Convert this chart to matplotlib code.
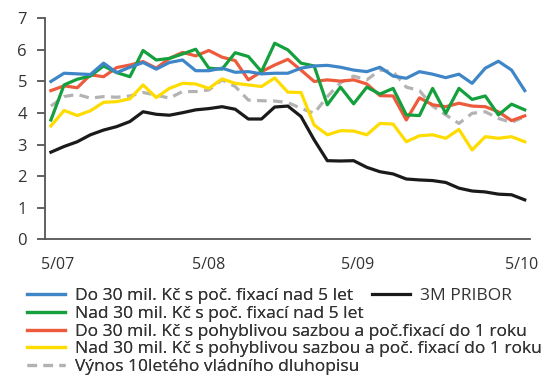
import numpy as np
import matplotlib.pyplot as plt

plt.rcParams['font.family'] = ['Open Sans', 'DejaVu Sans']

# mesice 5/2007 .. 5/2010
mesice = np.arange(37)

do30_fix5 = [5.00, 5.26, 5.24, 5.22, 5.58, 5.28, 5.45, 5.60, 5.39, 5.60, 5.68, 5.34, 5.34,
             5.42, 5.29, 5.31, 5.24, 5.26, 5.26, 5.42, 5.49, 5.51, 5.45, 5.36, 5.31, 5.45,
             5.17, 5.10, 5.31, 5.23, 5.12, 5.23, 4.94, 5.42, 5.64, 5.36, 4.71]
nad30_fix5 = [3.78, 4.89, 5.07, 5.17, 5.49, 5.28, 5.15, 5.98, 5.68, 5.73, 5.87, 6.02, 5.42,
              5.39, 5.91, 5.79, 5.31, 6.21, 6.00, 5.58, 5.49, 4.26, 4.82, 4.29, 4.82, 4.60,
              4.78, 3.94, 3.92, 4.78, 3.99, 4.78, 4.43, 4.54, 3.94, 4.28, 4.10]
do30_pohybl = [4.71, 4.86, 4.80, 5.21, 5.15, 5.44, 5.52, 5.63, 5.42, 5.73, 5.92, 5.81, 5.98,
               5.77, 5.66, 5.05, 5.31, 5.52, 5.70, 5.36, 5.00, 5.05, 5.01, 5.05, 4.92, 4.55,
               4.54, 3.78, 4.48, 4.26, 4.20, 4.31, 4.22, 4.20, 4.04, 3.76, 3.91]
nad30_pohybl = [3.59, 4.08, 3.92, 4.07, 4.34, 4.36, 4.45, 4.89, 4.49, 4.78, 4.94, 4.92, 4.78,
                5.08, 4.94, 4.89, 4.84, 5.11, 4.66, 4.65, 3.62, 3.31, 3.44, 3.43, 3.31, 3.67,
                3.65, 3.09, 3.28, 3.31, 3.20, 3.48, 2.83, 3.25, 3.20, 3.25, 3.09]
pribor = [2.76, 2.94, 3.09, 3.31, 3.46, 3.57, 3.73, 4.04, 3.96, 3.93, 4.01, 4.10, 4.14,
          4.20, 4.12, 3.81, 3.81, 4.19, 4.22, 3.89, 3.15, 2.49, 2.48, 2.49, 2.28, 2.14,
          2.07, 1.91, 1.88, 1.86, 1.80, 1.62, 1.53, 1.50, 1.43, 1.41, 1.25]
vynos10 = [4.22, 4.52, 4.59, 4.47, 4.52, 4.50, 4.54, 4.65, 4.57, 4.47, 4.68, 4.68, 4.73,
           5.05, 4.84, 4.41, 4.39, 4.38, 4.33, 4.15, 3.99, 4.52, 4.96, 5.17, 5.05, 5.36,
           5.31, 4.82, 4.71, 4.22, 3.94, 3.67, 3.99, 4.04, 3.83, 3.70, 3.89]

tick_pos = [0.5, 12, 23.3, 35.8]
tick_lab = ['5/07', '5/08', '5/09', '5/10']

fig = plt.figure(figsize=(5.44, 3.81), dpi=100)
ax = fig.add_axes([45/544, 1 - 239.3/381, (530 - 45)/544, (239.3 - 18.3)/381])

lw = 2.3
l_vynos, = ax.plot(mesice, vynos10, color='#b3b3b3', lw=lw, ls=(0, (3, 2)))
l_pribor, = ax.plot(mesice, pribor, color='#1a1a1a', lw=lw)
l_nadp, = ax.plot(mesice, nad30_pohybl, color='#ffdc00', lw=lw)
l_dop, = ax.plot(mesice, do30_pohybl, color='#ee5a3c', lw=lw)
l_nadf, = ax.plot(mesice, nad30_fix5, color='#14a03c', lw=lw)
l_dof, = ax.plot(mesice, do30_fix5, color='#3f86c8', lw=lw)

ax.set_xlim(-0.45, 36.4)
ax.set_ylim(0, 7)
ax.set_yticks(range(8))
ax.set_xticks(tick_pos)
ax.set_xticklabels(tick_lab)
for s in ['top', 'right']:
    ax.spines[s].set_visible(False)
for s in ['left', 'bottom']:
    ax.spines[s].set_color('#555555')
    ax.spines[s].set_linewidth(1.3)
ax.tick_params(axis='y', length=6, width=1.3, color='#555555', labelsize=12,
               labelcolor='#333333', pad=7)
ax.tick_params(axis='x', length=0, labelsize=11.5, labelcolor='#333333', pad=13)

leg1 = fig.legend([l_dof, l_nadf, l_dop, l_nadp, l_vynos],
                  ['Do 30 mil. Kč s poč. fixací nad 5 let',
                   'Nad 30 mil. Kč s poč. fixací nad 5 let',
                   'Do 30 mil. Kč s pohyblivou sazbou a poč.fixací do 1 roku',
                   'Nad 30 mil. Kč s pohyblivou sazbou a poč. fixací do 1 roku',
                   'Výnos 10letého vládního dluhopisu'],
                  loc='upper left', bbox_to_anchor=(27/544, 1 - 288/381),
                  frameon=False, fontsize=12.5, handlelength=2.2, handletextpad=0.55,
                  labelspacing=0.09, borderpad=0, borderaxespad=0, labelcolor='#333333')
fig.add_artist(leg1)
fig.legend([l_pribor], ['3M PRIBOR'], loc='upper left',
           bbox_to_anchor=(372/544, 1 - 288/381), frameon=False, fontsize=12.5,
           handlelength=2.2, handletextpad=0.55, borderpad=0, borderaxespad=0,
           labelcolor='#333333')

fig.savefig('out.png', dpi=100)
